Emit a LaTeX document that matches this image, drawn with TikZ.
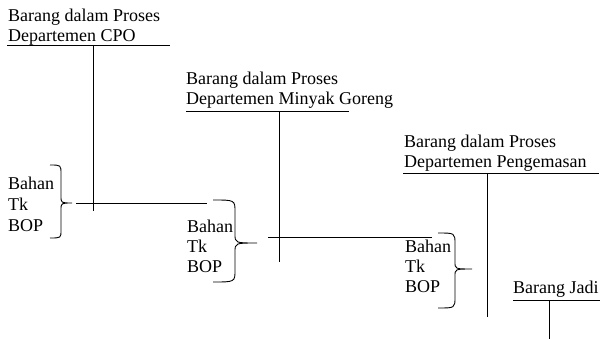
\documentclass[tikz,border=0pt]{standalone}
\usepackage{fontspec}
\setmainfont{Liberation Serif}
\begin{document}
\begin{tikzpicture}[x=1pt,y=-1pt,
  lbl/.style={anchor=base west,inner sep=0pt,font=\fontsize{18}{20}\selectfont},
  rule/.style={line width=0.9pt},
  brc/.style={line width=0.9pt}]
\useasboundingbox (0,0) rectangle (601,339);

% --- Account 1: Departemen CPO
\node[lbl] (t1a) at (8,22) {Barang dalam Proses};
\node[lbl] (t1b) at (8,42) {Departemen CPO};
\coordinate (h1l) at (7,45);
\coordinate (h1r) at (170,45);
\coordinate (v1t) at (93,45);
\coordinate (v1b) at (93,211);
\draw[rule] (h1l) -- (h1r);
\draw[rule] (v1t) -- (v1b);

% cost elements into account 1
\node[lbl] (b1) at (8,189) {Bahan};
\node[lbl] (k1) at (8,210) {Tk};
\node[lbl] (p1) at (8,231) {BOP};
\draw[brc] (50,165) .. controls (61,165) .. (61,174) -- (61,196)
  .. controls (61,203) .. (72,203) .. controls (61,203) .. (61,210)
  -- (61,230) .. controls (61,238) .. (50,238);
\coordinate (x1l) at (76,203);
\coordinate (x1r) at (207,203);
\draw[rule] (x1l) -- (x1r);

% --- Account 2: Departemen Minyak Goreng
\node[lbl] (t2a) at (186,85) {Barang dalam Proses};
\node[lbl] (t2b) at (186,105) {Departemen Minyak Goreng};
\coordinate (h2l) at (186,111);
\coordinate (h2r) at (349,111);
\coordinate (v2t) at (279,111);
\coordinate (v2b) at (279,262);
\draw[rule] (h2l) -- (h2r);
\draw[rule] (v2t) -- (v2b);

% cost elements into account 2
\node[lbl] (b2) at (187,232) {Bahan};
\node[lbl] (k2) at (187,252) {Tk};
\node[lbl] (p2) at (187,272) {BOP};
\draw[brc] (213,200) .. controls (235,200) .. (235,212) -- (235,234)
  .. controls (235,243) .. (257,243) .. controls (235,243) .. (235,252)
  -- (235,270) .. controls (235,282) .. (213,282);
\coordinate (x2l) at (268,237);
\coordinate (x2r) at (432,237);
\draw[rule] (x2l) -- (x2r);

% --- Account 3: Departemen Pengemasan
\node[lbl] (t3a) at (404,147) {Barang dalam Proses};
\node[lbl] (t3b) at (404,167) {Departemen Pengemasan};
\coordinate (h3l) at (403,173);
\coordinate (h3r) at (599,173);
\coordinate (v3t) at (487,173);
\coordinate (v3b) at (487,317);
\draw[rule] (h3l) -- (h3r);
\draw[rule] (v3t) -- (v3b);

% cost elements into account 3
\node[lbl] (b3) at (405,252) {Bahan};
\node[lbl] (k3) at (405,272) {Tk};
\node[lbl] (p3) at (405,292) {BOP};
\draw[brc] (438,233) .. controls (455,233) .. (455,244) -- (455,262)
  .. controls (455,269) .. (472,269) .. controls (455,269) .. (455,276)
  -- (455,297) .. controls (455,308) .. (438,308);

% --- Barang Jadi
\node[lbl] (t4) at (513,293) {Barang Jadi};
\coordinate (h4l) at (513,300);
\coordinate (h4r) at (600,300);
\coordinate (v4t) at (549,300);
\coordinate (v4b) at (549,339);
\draw[rule] (h4l) -- (h4r);
\draw[rule] (v4t) -- (v4b);
\end{tikzpicture}
\end{document}
